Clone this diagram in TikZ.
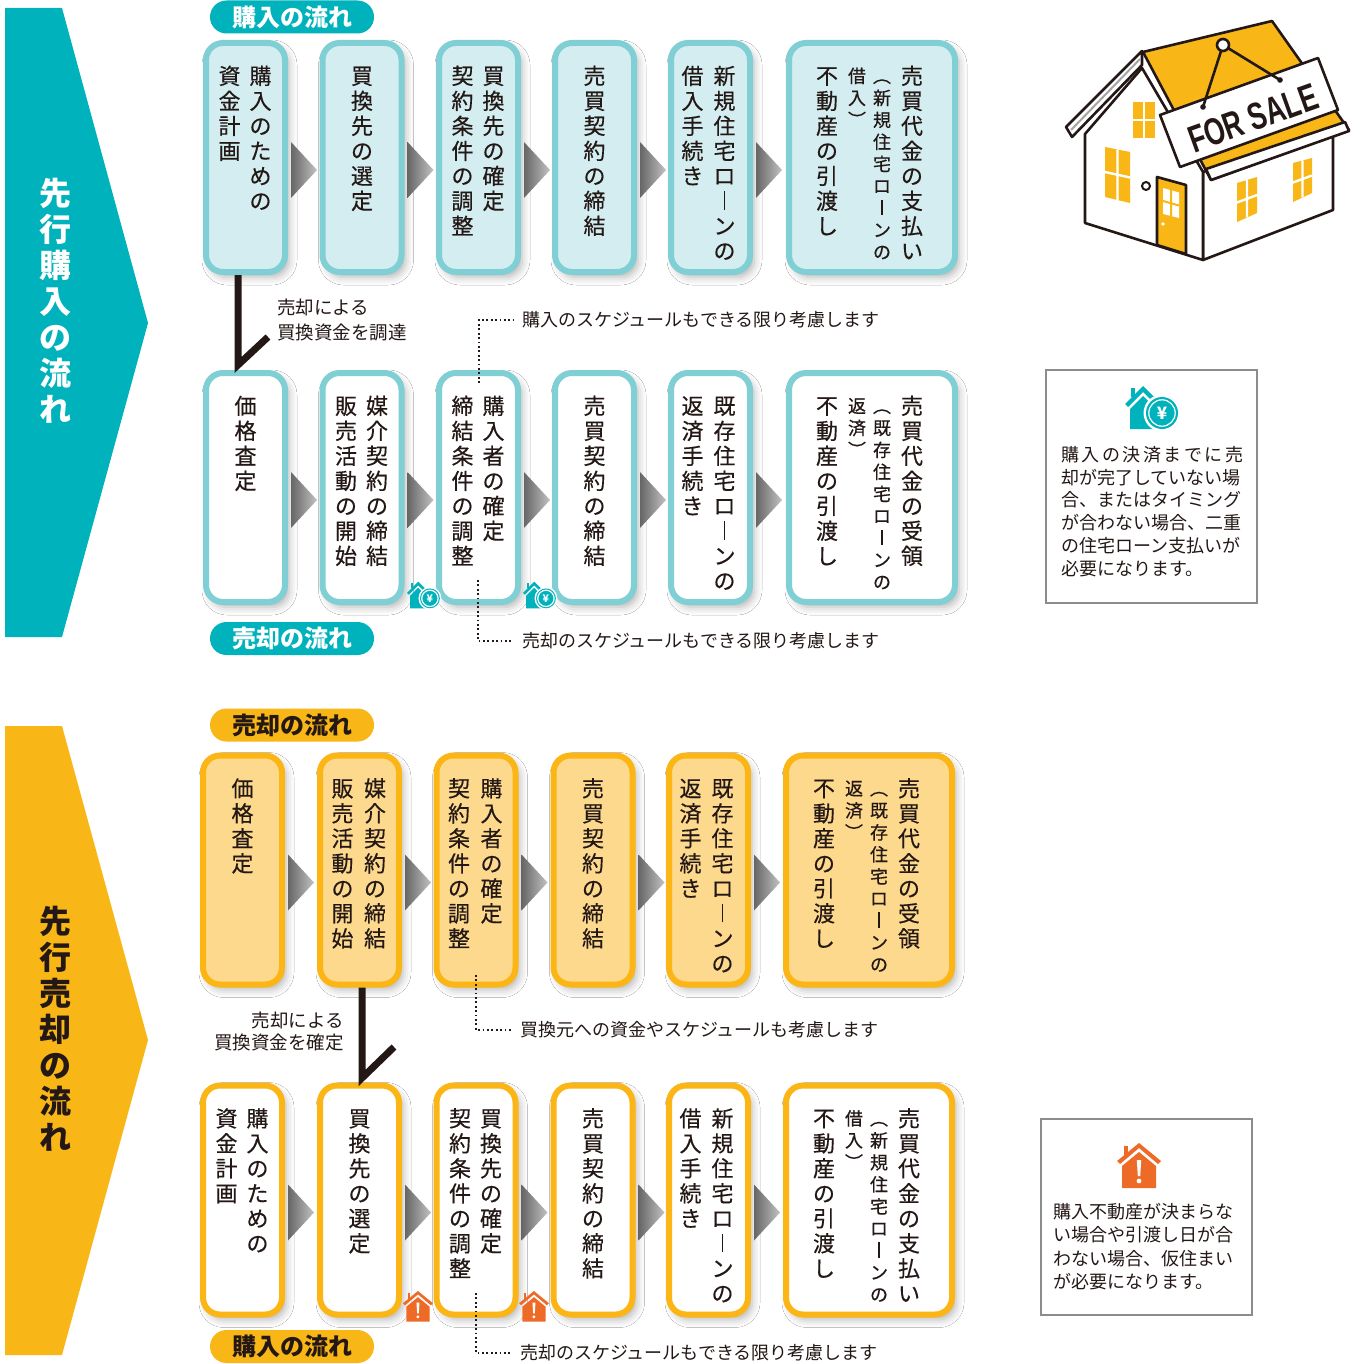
\documentclass[tikz,border=0pt]{standalone}
\usepackage{fontspec}
\setmainfont{Noto Sans CJK JP}
\newfontfamily\boxfont{Noto Sans CJK JP}[FakeBold=0.35]
\newfontfamily\signfont{Liberation Sans}
\usepackage{graphicx}
\usetikzlibrary{calc,shadows.blur}

\definecolor{teal}{HTML}{00B2BB}
\definecolor{tealline}{HTML}{7FCFD5}
\definecolor{tealfill}{HTML}{D3EDF0}
\definecolor{org}{HTML}{F9B617}
\definecolor{orgline}{HTML}{FBB515}
\definecolor{orgfill}{HTML}{FDD98E}
\definecolor{ink}{HTML}{231815}
\definecolor{alert}{HTML}{EE6B27}
\definecolor{frame}{HTML}{8C8C8C}

% vertical (top-to-bottom) text: one character per line at a fixed pitch
\ExplSyntaxOn
\dim_new:N \l_tate_pitch_dim
\cs_new_protected:Npn \tate_item:n #1
  { \hbox_to_wd:nn {1em} { \hss \raisebox{0pt}[\l_tate_pitch_dim][0pt]{#1} \hss } }
\NewDocumentCommand \tate { O{25pt} m }
  {
    \dim_set:Nn \l_tate_pitch_dim {#1}
    \vbox:n { \offinterlineskip \tl_map_function:nN {#2} \tate_item:n }
  }
\NewDocumentCommand \spreadline { m m }
  { \hbox_to_wd:nn {#1} { \tl_map_inline:nn {#2} { ##1 \hfil } \unskip } }
\ExplSyntaxOff
\newcommand\vbar{\hbox to 1em{\hss\rule[-0.02em]{0.08em}{0.84em}\hss}}
\newcommand\vl{︵}
\newcommand\vr{︶}

\newcommand\bxfont{\boxfont\fontsize{22}{25}\selectfont}
\newcommand\smfont{\boxfont\fontsize{18}{22}\selectfont}

\tikzset{
  flowbox/.style={rectangle, rounded corners=17pt, line width=6pt, minimum height=229pt,
    inner sep=0pt, blur shadow={shadow xshift=4pt, shadow yshift=-5pt,
    shadow blur radius=8pt, shadow opacity=30}},
  narrow/.style={minimum width=79pt},
  wide/.style={minimum width=166pt},
  bluebox/.style={flowbox, draw=tealline, fill=tealfill},
  bluewhite/.style={flowbox, draw=tealline, fill=white},
  orgbox/.style={flowbox, draw=orgline, fill=orgfill},
  orgwhite/.style={flowbox, draw=orgline, fill=white},
  col/.style={anchor=north, inner sep=0pt, text=ink, font=\bxfont},
  smcol/.style={anchor=north, inner sep=0pt, text=ink, font=\smfont},
  pill/.style={rectangle, rounded corners=16.5pt, minimum width=164pt, minimum height=33pt,
    inner sep=0pt, font=\bfseries\fontsize{24}{24}\selectfont},
  note/.style={anchor=west, inner sep=0pt, text=ink, font=\fontsize{18}{18}\selectfont},
  dots/.style={draw=ink, line width=2pt, dash pattern=on 1.8pt off 2.6pt},
  check/.style={draw=ink, line width=7pt, line join=miter},
  infobox/.style={draw=frame, line width=1.2pt, fill=white, inner sep=0pt},
  yenicon/.pic={
    \fill[teal] (0,19) -- (18,1) -- (36,19) -- (33,22) -- (18,7) -- (3,22) -- cycle;
    \fill[teal] (6,3) rectangle (10,12);
    \fill[teal] (5,24) -- (18,11) -- (31,24) -- (31,44) -- (5,44) -- cycle;
    \fill[white] (37,28) circle (18.5);
    \fill[teal] (37,28) circle (16);
    \draw[white, line width=1.2pt] (37,28) circle (13.2);
    \node[text=white, inner sep=0pt, transform shape,
      font=\bfseries\fontsize{17}{17}\selectfont] at (37,28.5) {¥};
  },
  alerticon/.pic={
    \fill[alert] (0,18) -- (22,0) -- (44,18) -- (41,21) -- (22,5) -- (3,21) -- cycle;
    \fill[alert] (7,3) rectangle (11,13);
    \fill[alert] (5,23) -- (22,9) -- (39,23) -- (39,45) -- (5,45) -- cycle;
    \fill[white] (19.8,17) -- (24.2,17) -- (23.2,33) -- (20.8,33) -- cycle;
    \fill[white] (22,38) circle (2.4);
  }
}

% one column of vertical text inside a box
\newcommand\vcol[4]{\node[col] (#1) at ($(#2.north)+(#3,19)$) {\tate{#4}};}
\newcommand\vsmall[4]{\node[smcol] (#1) at ($(#2.north)+(#3,20.5)$) {\tate[22pt]{#4}};}
% grey step arrow to the right of a box
\newcommand\steparrow[2]{\shade[left color=black!60, right color=black!24]
  ($(#2.east)+(3,-15.5)$) coordinate (#1) -- ++(26,28) -- ++(-26,28) -- cycle;}

\begin{document}
\begin{tikzpicture}[x=1pt, y=-1pt]
\useasboundingbox[fill=white] (0,0) rectangle (1363,1364);

% ---------- side banners ----------
\fill[teal] (5,8) -- (62,8) -- (148,323) -- (62,637) -- (5,637) -- cycle;
\node[anchor=north, inner sep=0pt, text=white, font=\bfseries\fontsize{32}{36}\selectfont]
  (bannerA) at (55,169.5) {\tate[36pt]{先行購入の流れ}};
\fill[org] (5,726) -- (62,726) -- (148,1040) -- (62,1355) -- (5,1355) -- cycle;
\node[anchor=north, inner sep=0pt, text=ink, font=\bfseries\fontsize{32}{36}\selectfont]
  (bannerB) at (55,897.5) {\tate[36pt]{先行売却の流れ}};

% ---------- section labels ----------
\node[pill, fill=teal, text=white] (lab1) at (292,17) {購入の流れ};
\node[pill, fill=teal, text=white] (lab2) at (292,638.5) {売却の流れ};
\node[pill, fill=org, text=ink] (lab3) at (292,725) {売却の流れ};
\node[pill, fill=org, text=ink] (lab4) at (292,1346.5) {購入の流れ};

% ---------- row 1: purchase (teal) ----------
\node[bluebox, narrow] (a1) at (245.5,157.5) {};
\node[bluebox, narrow] (a2) at (362,157.5) {};
\node[bluebox, narrow] (a3) at (478.5,157.5) {};
\node[bluebox, narrow] (a4) at (594.5,157.5) {};
\node[bluebox, narrow] (a5) at (710.5,157.5) {};
\node[bluebox, wide] (a6) at (872,157.5) {};
\steparrow{sa1}{a1}\steparrow{sa2}{a2}\steparrow{sa3}{a3}\steparrow{sa4}{a4}\steparrow{sa5}{a5}
\vcol{a1r}{a1}{15}{購入のための}\vcol{a1l}{a1}{-16}{資金計画}
\vcol{a2c}{a2}{0}{買換先の選定}
\vcol{a3r}{a3}{15}{買換先の確定}\vcol{a3l}{a3}{-16}{契約条件の調整}
\vcol{a4c}{a4}{0}{売買契約の締結}
\vcol{a5r}{a5}{14}{新規住宅ロ\vbar ンの}\vcol{a5l}{a5}{-18}{借入手続き}
\vcol{a6a}{a6}{40}{売買代金の支払い}
\vsmall{a6b}{a6}{10}{\vl 新規住宅ロ\vbar ンの}
\vsmall{a6c}{a6}{-15}{借入\vr}
\vcol{a6d}{a6}{-45}{不動産の引渡し}

% ---------- row 2: sale (teal outline) ----------
\node[bluewhite, narrow] (b1) at (245.5,487.5) {};
\node[bluewhite, narrow] (b2) at (362,487.5) {};
\node[bluewhite, narrow] (b3) at (478.5,487.5) {};
\node[bluewhite, narrow] (b4) at (594.5,487.5) {};
\node[bluewhite, narrow] (b5) at (710.5,487.5) {};
\node[bluewhite, wide] (b6) at (872,487.5) {};
\steparrow{sb1}{b1}\steparrow{sb2}{b2}\steparrow{sb3}{b3}\steparrow{sb4}{b4}\steparrow{sb5}{b5}
\vcol{b1c}{b1}{0}{価格査定}
\vcol{b2r}{b2}{15}{媒介契約の締結}\vcol{b2l}{b2}{-16}{販売活動の開始}
\vcol{b3r}{b3}{15}{購入者の確定}\vcol{b3l}{b3}{-16}{締結条件の調整}
\vcol{b4c}{b4}{0}{売買契約の締結}
\vcol{b5r}{b5}{14}{既存住宅ロ\vbar ンの}\vcol{b5l}{b5}{-18}{返済手続き}
\vcol{b6a}{b6}{40}{売買代金の受領}
\vsmall{b6b}{b6}{10}{\vl 既存住宅ロ\vbar ンの}
\vsmall{b6c}{b6}{-15}{返済\vr}
\vcol{b6d}{b6}{-45}{不動産の引渡し}

% ---------- row 3: sale (orange) ----------
\node[orgbox, narrow] (c1) at (242.5,870) {};
\node[orgbox, narrow] (c2) at (359.5,870) {};
\node[orgbox, narrow] (c3) at (476,870) {};
\node[orgbox, narrow] (c4) at (593,870) {};
\node[orgbox, narrow] (c5) at (708.5,870) {};
\node[orgbox, wide] (c6) at (869,870) {};
\steparrow{sc1}{c1}\steparrow{sc2}{c2}\steparrow{sc3}{c3}\steparrow{sc4}{c4}\steparrow{sc5}{c5}
\vcol{c1c}{c1}{0}{価格査定}
\vcol{c2r}{c2}{15.5}{媒介契約の締結}\vcol{c2l}{c2}{-17}{販売活動の開始}
\vcol{c3r}{c3}{15.5}{購入者の確定}\vcol{c3l}{c3}{-17}{契約条件の調整}
\vcol{c4c}{c4}{0}{売買契約の締結}
\vcol{c5r}{c5}{14}{既存住宅ロ\vbar ンの}\vcol{c5l}{c5}{-18}{返済手続き}
\vcol{c6a}{c6}{40}{売買代金の受領}
\vsmall{c6b}{c6}{10}{\vl 既存住宅ロ\vbar ンの}
\vsmall{c6c}{c6}{-15}{返済\vr}
\vcol{c6d}{c6}{-45}{不動産の引渡し}

% ---------- row 4: purchase (orange outline) ----------
\node[orgwhite, narrow] (d1) at (242.5,1200) {};
\node[orgwhite, narrow] (d2) at (359.5,1200) {};
\node[orgwhite, narrow] (d3) at (476,1200) {};
\node[orgwhite, narrow] (d4) at (593,1200) {};
\node[orgwhite, narrow] (d5) at (708.5,1200) {};
\node[orgwhite, wide] (d6) at (869,1200) {};
\steparrow{sd1}{d1}\steparrow{sd2}{d2}\steparrow{sd3}{d3}\steparrow{sd4}{d4}\steparrow{sd5}{d5}
\vcol{d1r}{d1}{15}{購入のための}\vcol{d1l}{d1}{-16}{資金計画}
\vcol{d2c}{d2}{0}{買換先の選定}
\vcol{d3r}{d3}{15}{買換先の確定}\vcol{d3l}{d3}{-16}{契約条件の調整}
\vcol{d4c}{d4}{0}{売買契約の締結}
\vcol{d5r}{d5}{14}{新規住宅ロ\vbar ンの}\vcol{d5l}{d5}{-18}{借入手続き}
\vcol{d6a}{d6}{40}{売買代金の支払い}
\vsmall{d6b}{d6}{10}{\vl 新規住宅ロ\vbar ンの}
\vsmall{d6c}{d6}{-15}{借入\vr}
\vcol{d6d}{d6}{-45}{不動産の引渡し}

% ---------- hand-over connectors ----------
\coordinate (k1) at (238,365);
\coordinate (k1e) at (268,337);
\draw[check] (a1.south -| k1) -- (k1) -- (k1e);
\node[anchor=north west, inner sep=0pt, align=left, text=ink,
  font=\fontsize{18.5}{25}\selectfont] (k1t) at (277,299) {売却による\\買換資金を調達};

\coordinate (k2) at (362,1078);
\coordinate (k2e) at (394,1047);
\draw[check] (c2.south -| k2) -- (k2) -- (k2e);
\node[anchor=north east, inner sep=0pt, align=right, text=ink,
  font=\fontsize{18.5}{22}\selectfont] (k2t) at (344,1012) {売却による\\買換資金を確定};

% ---------- schedule notes ----------
\node[note] (n1) at (522,320) {購入のスケジュールもできる限り考慮します};
\coordinate (n1s) at (479,383);
\draw[dots] (n1s) |- ([xshift=-9pt]n1.west);
\node[note] (n2) at (522,641) {売却のスケジュールもできる限り考慮します};
\coordinate (n2s) at (478,580);
\draw[dots] (n2s) |- ([xshift=-9pt]n2.west);
\node[note] (n3) at (520,1030) {買換元への資金やスケジュールも考慮します};
\coordinate (n3s) at (476,975);
\draw[dots] (n3s) |- ([xshift=-9pt]n3.west);
\node[note] (n4) at (520,1353) {売却のスケジュールもできる限り考慮します};
\coordinate (n4s) at (476,1293);
\draw[dots] (n4s) |- ([xshift=-9pt]n4.west);

% ---------- small marks between boxes ----------
\pic[scale=0.62] (y1) at (407,581) {yenicon};
\pic[scale=0.62] (y2) at (523,581) {yenicon};
\pic[scale=0.68] (x1) at (403,1291) {alerticon};
\pic[scale=0.68] (x2) at (519,1291) {alerticon};

% ---------- side notes ----------
\node[infobox, minimum width=211pt, minimum height=233pt] (i1) at (1151.5,486.5) {};
\pic (i1icon) at (1125,385) {yenicon};
\node[anchor=north west, inner sep=0pt, align=left, text=ink,
  font=\fontsize{18}{22.8}\selectfont] (i1t) at (1061,446)
  {\spreadline{182pt}{購入の決済までに売}\\却が完了していない場\\合、またはタイミング\\が合わない場合、二重\\の住宅ローン支払いが\\必要になります。};

\node[infobox, minimum width=211pt, minimum height=196pt] (i2) at (1146.5,1217) {};
\pic (i2icon) at (1117,1143) {alerticon};
\node[anchor=north west, inner sep=0pt, align=left, text=ink,
  font=\fontsize{18}{23.3}\selectfont] (i2t) at (1053,1203)
  {購入不動産が決まらな\\い場合や引渡し日が合\\わない場合、仮住まい\\が必要になります。};

% ---------- house with sale sign ----------
\begin{scope}[draw=ink, line width=2.6pt, line join=round]
  % side wall
  \filldraw[fill=white] (1203,172) -- (1333,132) -- (1333,210) -- (1203,260) -- cycle;
  % front gable wall
  \filldraw[fill=white] (1085,134) -- (1142,68) -- (1203,172) -- (1203,260) -- (1085,223) -- cycle;
  % gable trim
  \filldraw[fill=white] (1142,51) -- (1066,127) -- (1072,137) -- (1142,65) -- cycle;
  \draw[black!35, line width=2pt] (1140,59) -- (1071,130);
  % roof and fascia
  \filldraw[fill=org] (1143,52) -- (1272,21) -- (1349,130) -- (1211,180) -- cycle;
  \filldraw[fill=white] (1206,169) -- (1345,122) -- (1349,131) -- (1211,180) -- cycle;
  % windows
  \fill[org] (1133,102) rectangle (1155,138);
  \draw[white, line width=2.4pt] (1144,102) -- (1144,138) (1133,120) -- (1155,120);
  \fill[org] (1105,147) -- (1130,152) -- (1130,203) -- (1105,197) -- cycle;
  \draw[white, line width=2.4pt] (1117.5,149.5) -- (1117.5,200) (1105,172) -- (1130,177.5);
  \fill[org] (1237,183) -- (1257,177) -- (1257,213) -- (1237,222) -- cycle;
  \draw[white, line width=2.4pt] (1247,180) -- (1247,217.5) (1237,202.5) -- (1257,195);
  \fill[org] (1293,163) -- (1312,158) -- (1312,193) -- (1293,202) -- cycle;
  \draw[white, line width=2.4pt] (1302.5,160.5) -- (1302.5,197.5) (1293,182.5) -- (1312,175.5);
  \filldraw[fill=white, line width=2pt] (1146,186) circle (4);
  % door
  \filldraw[fill=org] (1157,177) -- (1186,185) -- (1186,254) -- (1157,245) -- cycle;
  \fill[white] (1163,188) -- (1179,192.5) -- (1179,218) -- (1163,214) -- cycle;
  \draw[org, line width=2pt] (1171,190) -- (1171,216) (1163,201) -- (1179,205.5);
  \fill[white] (1163,224) circle (1.8);
  % sign
  \filldraw[fill=white] (1160,115) -- (1318,58) -- (1338,110) -- (1180,167) -- cycle;
  \node[rotate=19.8, inner sep=0pt, text=ink, font=\signfont\bfseries\fontsize{38}{38}\selectfont]
    (sale) at (1253,118) {\scalebox{0.7}[1]{FOR SALE}};
  \coordinate (hookL) at (1203,107);
  \coordinate (hookR) at (1280,80);
  \coordinate (nail) at (1223,45);
  \draw (hookL) -- (nail) -- (hookR);
  \fill[ink] (hookL) circle (2.8) (hookR) circle (2.8);
  \filldraw[fill=white] (nail) circle (6);
\end{scope}
\end{tikzpicture}
\end{document}
